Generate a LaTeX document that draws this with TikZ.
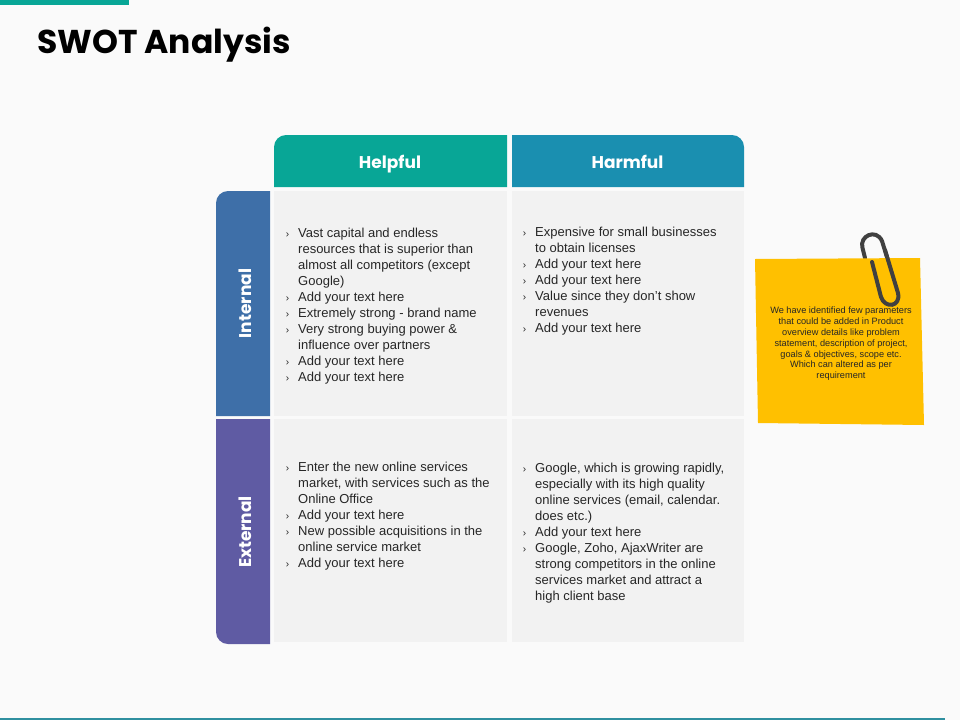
\documentclass[tikz,border=0pt]{standalone}
\usepackage{fontspec}
\setmainfont{Liberation Sans}
\newfontfamily\headfont{Poppins}
\usepackage{tikz}
\definecolor{tealbar}{HTML}{08A696}
\definecolor{harmblue}{HTML}{1A8FB0}
\definecolor{internblue}{HTML}{3E6FA8}
\definecolor{externpurple}{HTML}{5F5BA3}
\definecolor{notegold}{HTML}{FFC000}
\definecolor{cellgrey}{HTML}{F2F2F2}
\definecolor{pagegrey}{HTML}{FAFAFA}
\definecolor{clipgrey}{HTML}{404040}
\definecolor{bodytext}{HTML}{262626}
\definecolor{footline}{HTML}{2F8F9F}
\newcommand{\tick}{\llap{{\fontsize{10}{16}\selectfont\color{bodytext}›}\hspace{9pt}}}
\tikzset{
  headlabel/.style={anchor=base,text=white,inner sep=0,font=\headfont\bfseries\fontsize{17}{20}\selectfont},
  celltext/.style={anchor=north west,inner sep=0,align=left,text=bodytext,font=\fontsize{13}{16}\selectfont},
  notetext/.style={inner sep=0,align=center,text=black!85,font=\fontsize{9.2}{10.8}\selectfont}
}
\begin{document}
\begin{tikzpicture}[x=1pt,y=-1pt]
  \useasboundingbox (0,0) rectangle (960,720);
  \fill[pagegrey] (0,0) rectangle (960,720);
  \fill[tealbar] (0,0) rectangle (129,5);
  \fill[footline] (0,718) rectangle (945,720);
  \node (title) [anchor=base west,inner sep=0,font=\headfont\bfseries\fontsize{33}{36}\selectfont] at (37,53) {SWOT Analysis};
  % column and row heads
  \fill[tealbar] (274,187) [rounded corners=12pt] -- (274,135) [sharp corners] -- (507,135) -- (507,187) -- cycle;
  \fill[harmblue] (512,187) -- (512,135) [rounded corners=12pt] -- (744,135) [sharp corners] -- (744,187) -- cycle;
  \fill[internblue] (270,416) -- (216,416) [rounded corners=12pt] -- (216,191) [sharp corners] -- (270,191) -- cycle;
  \fill[externpurple] (270,419) -- (216,419) [rounded corners=12pt] -- (216,644) [sharp corners] -- (270,644) -- cycle;
  \node (helpful) [headlabel] at (390,168.5) {Helpful};
  \node (harmful) [headlabel] at (627.5,168.5) {Harmful};
  \node (internal) [headlabel,rotate=90] at (251,303.5) {Internal};
  \node (external) [headlabel,rotate=90] at (251,532) {External};
  % cells
  \fill[cellgrey] (274,191) rectangle (507,416);
  \fill[cellgrey] (512,191) rectangle (744,416);
  \fill[cellgrey] (274,419) rectangle (507,642);
  \fill[cellgrey] (512,419) rectangle (744,642);
  \node (intHelp) [celltext] at (298,228) {\tick Vast capital and endless\\resources that is superior than\\almost all competitors (except\\Google)\\\tick Add your text here\\\tick Extremely strong - brand name\\\tick Very strong buying power \&\\influence over partners\\\tick Add your text here\\\tick Add your text here};
  \node (intHarm) [celltext] at (535,227) {\tick Expensive for small businesses\\to obtain licenses\\\tick Add your text here\\\tick Add your text here\\\tick Value since they don’t show\\revenues\\\tick Add your text here};
  \node (extHelp) [celltext] at (298,462) {\tick Enter the new online services\\market, with services such as the\\Online Office\\\tick Add your text here\\\tick New possible acquisitions in the\\online service market\\\tick Add your text here};
  \node (extHarm) [celltext] at (535,463) {\tick Google, which is growing rapidly,\\especially with its high quality\\online services (email, calendar.\\does etc.)\\\tick Add your text here\\\tick Google, Zoho, AjaxWriter are\\strong competitors in the online\\services market and attract a\\high client base};
  % sticky note and its clip
  \draw[clipgrey,line width=4pt,line cap=round] (865,258) -- (862.5,248) .. controls (859,236) and (876,228) .. (882,241) -- (898,293) .. controls (901,307) and (885,309) .. (881,297) -- (872,262);
  \fill[notegold] (755,259) -- (920,258) -- (924,425) -- (758,423) -- cycle;
  \draw[clipgrey,line width=4pt,line cap=round] (872,262) -- (881,297) .. controls (885,309) and (901,307) .. (898,293) -- (885,250);
  \node (note) [notetext] at (841,344) {We have identified few parameters\\that could be added in Product\\overview details like problem\\statement, description of project,\\goals \& objectives, scope etc.\\Which can altered as per\\requirement};
\end{tikzpicture}
\end{document}
